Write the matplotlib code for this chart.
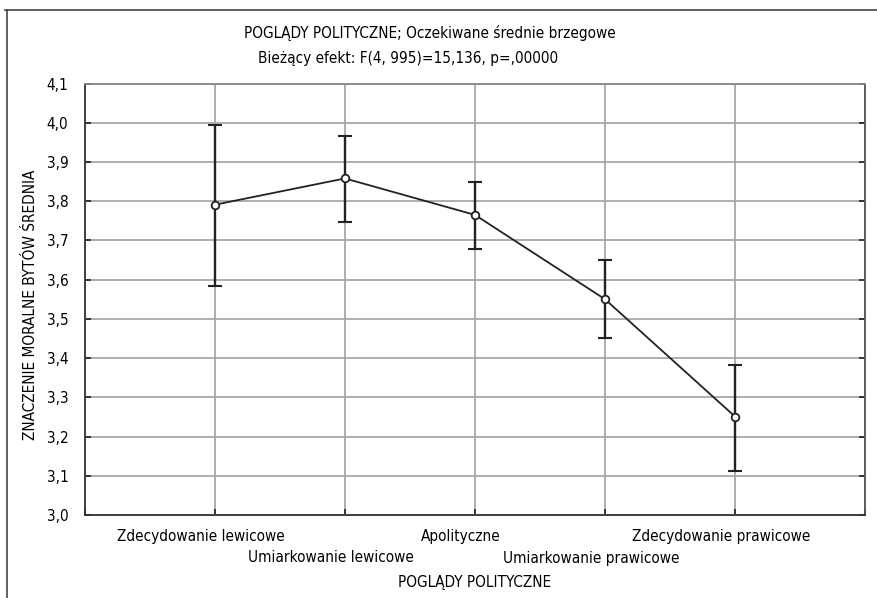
import numpy as np
import matplotlib
matplotlib.use("Agg")
import matplotlib.pyplot as plt
from matplotlib.lines import Line2D

# ─── Data ────────────────────────────────────────────────────────────────────
categories = [
    "Zdecydowanie lewicowe",
    "Umiarkowanie lewicowe",
    "Apolityczne",
    "Umiarkowanie prawicowe",
    "Zdecydowanie prawicowe",
]
means = [3.791, 3.858, 3.765, 3.550, 3.251]
lower = [3.584, 3.748, 3.679, 3.450, 3.113]
upper = [3.995, 3.965, 3.849, 3.649, 3.383]
yticks = [3.0, 3.1, 3.2, 3.3, 3.4, 3.5, 3.6, 3.7, 3.8, 3.9, 4.0, 4.1]

title1 = "POGLĄDY POLITYCZNE; Oczekiwane średnie brzegowe"
title2 = "Bieżący efekt: F(4, 995)=15,136, p=,00000"
xlabel = "POGLĄDY POLITYCZNE"
ylabel = "ZNACZENIE MORALNE BYTÓW ŚREDNIA"

plt.rcParams["font.family"] = ["Liberation Sans Narrow", "DejaVu Sans"]
plt.rcParams["font.stretch"] = "condensed"
FS = 11
DARK = "#222222"
GRID = "#a8a8a8"

W, H = 877, 598
fig = plt.figure(figsize=(W / 100, H / 100), dpi=100)
L, R, T, B = 85, 865, 83.5, 515
ax = fig.add_axes([L / W, 1 - B / H, (R - L) / W, (B - T) / H])

x = np.arange(1, len(categories) + 1)
m = np.array(means)
yerr = np.vstack([m - np.array(lower), np.array(upper) - m])

ax.errorbar(x, m, yerr=yerr, fmt="none", ecolor=DARK, elinewidth=1.7,
            capsize=5, capthick=1.5, zorder=3)
ax.plot(x, m, color=DARK, linewidth=1.3, marker="o", markersize=5.5,
        markerfacecolor="white", markeredgecolor=DARK, markeredgewidth=1.3,
        zorder=4)

ax.set_xlim(0, len(categories) + 1)
ax.set_ylim(3.0, 4.1)
ax.set_yticks(yticks)
ax.set_yticklabels([f"{v:.1f}".replace(".", ",") for v in yticks], fontsize=FS)
ax.set_xticks(np.arange(0, len(categories) + 2))
ax.set_xticklabels([])
ax.tick_params(direction="in", length=4, width=1.2, color=DARK,
               left=True, right=True, bottom=True, top=False, pad=12)
ax.grid(True, color=GRID, linewidth=1.3)
ax.set_axisbelow(True)
for side in ["left", "bottom"]:
    ax.spines[side].set_color("#333333")
    ax.spines[side].set_linewidth(1.3)
ax.spines["right"].set_color("#555555")
ax.spines["right"].set_linewidth(1.3)
ax.spines["top"].set_color("#888888")
ax.spines["top"].set_linewidth(1.3)

# staggered category labels, shifted slightly left as in the reference
for i, name in enumerate(categories):
    yoff = -22 if i % 2 == 0 else -43
    ax.annotate(name, xy=(x[i], 3.0), xycoords="data",
                xytext=(-14, yoff), textcoords="offset pixels",
                ha="center", va="center", fontsize=FS)

fig.text(475 / W, 1 - 583 / H, xlabel, ha="center", va="center", fontsize=FS)
fig.text(31 / W, 1 - 305 / H, ylabel, ha="center", va="center",
         rotation=90, fontsize=FS)
fig.text(430 / W, 1 - 33 / H, title1, ha="center", va="center", fontsize=FS)
fig.text(408 / W, 1 - 58 / H, title2, ha="center", va="center", fontsize=FS)

# frame lines at top and left of the figure
fig.add_artist(Line2D([5 / W, 1], [1 - 10 / H, 1 - 10 / H],
                      transform=fig.transFigure, color="#444444", linewidth=1.2))
fig.add_artist(Line2D([7 / W, 7 / W], [0, 1 - 10 / H],
                      transform=fig.transFigure, color="#444444", linewidth=1.2))

fig.savefig("out.png", dpi=100)
